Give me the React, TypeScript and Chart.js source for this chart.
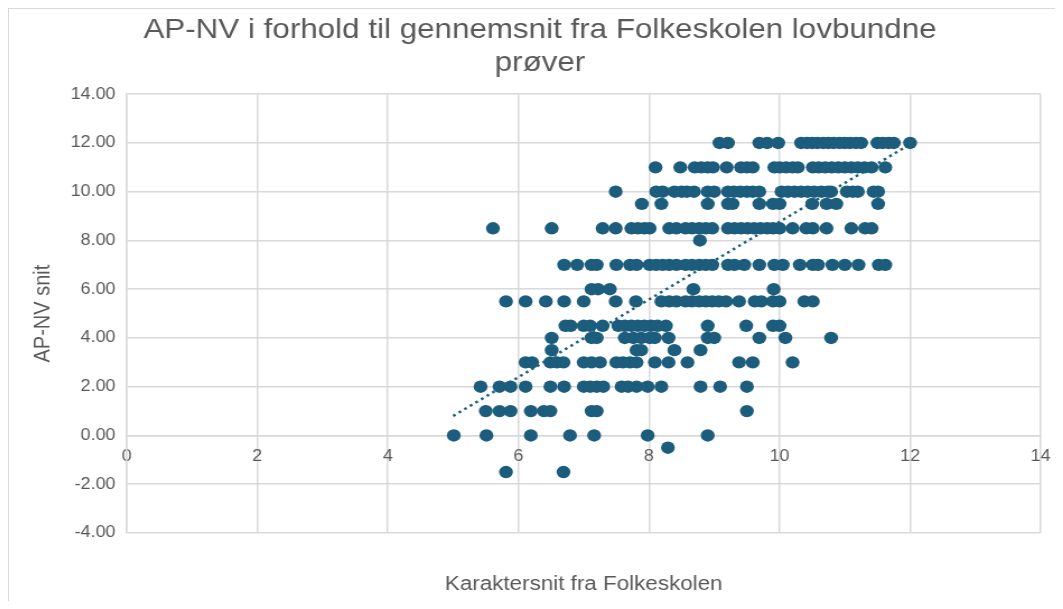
import React, { useEffect, useRef } from "react";
import { Chart, registerables } from "chart.js";

Chart.register(...registerables);

const TITLE_LINES = ["AP-NV i forhold til gennemsnit fra Folkeskolen lovbundne", "prøver"];
const X_TITLE = "Karaktersnit fra Folkeskolen";
const Y_TITLE = "AP-NV snit";

const X_MIN = 0;
const X_MAX = 14;
const X_STEP = 2;
const Y_MIN = -4;
const Y_MAX = 14;
const Y_STEP = 2;

// y levels (AP-NV snit) and the x values (Karaktersnit) read at each level
const yLevels = [12, 11, 10, 9.5, 8.5, 8, 7, 6, 5.5, 4.5, 4, 3.5, 3, 2, 1, 0, -0.5, -1.5];

const xAt12 = [9.08, 9.21, 9.69, 9.81, 9.98, 10.33, 10.42, 10.5, 10.58, 10.67, 10.75, 10.83, 10.92, 11.0, 11.08, 11.17, 11.25, 11.5, 11.58, 11.67, 11.75, 12.0];
const xAt11 = [8.1, 8.48, 8.7, 8.8, 8.9, 8.98, 9.19, 9.41, 9.5, 9.59, 9.92, 10.0, 10.1, 10.2, 10.28, 10.51, 10.6, 10.7, 10.8, 10.9, 11.0, 11.1, 11.2, 11.3, 11.41, 11.62];
const xAt10 = [7.49, 8.11, 8.21, 8.39, 8.5, 8.58, 8.69, 8.9, 9.0, 9.21, 9.3, 9.4, 9.5, 9.59, 9.69, 10.03, 10.13, 10.23, 10.33, 10.43, 10.53, 10.64, 10.74, 10.79, 11.03, 11.12, 11.2, 11.44, 11.51];
const xAt9_5 = [7.89, 8.19, 8.9, 9.21, 9.28, 9.69, 9.9, 10.0, 10.5, 10.72, 10.87, 11.51];
const xAt8_5 = [5.61, 6.51, 7.29, 7.49, 7.73, 7.83, 7.93, 8.01, 8.31, 8.42, 8.56, 8.66, 8.77, 8.87, 8.97, 9.21, 9.31, 9.41, 9.51, 9.61, 9.71, 9.81, 9.9, 10.0, 10.2, 10.41, 10.51, 10.72, 11.1, 11.31, 11.41];
const xAt8 = [8.78];
const xAt7 = [6.7, 6.9, 7.12, 7.2, 7.5, 7.71, 7.81, 8.01, 8.11, 8.21, 8.31, 8.42, 8.56, 8.66, 8.77, 8.87, 8.97, 9.21, 9.31, 9.46, 9.69, 9.92, 10.05, 10.31, 10.51, 10.59, 10.81, 11.0, 11.21, 11.52, 11.62];
const xAt6 = [7.12, 7.22, 7.4, 8.68, 9.91];
const xAt5_5 = [5.81, 6.11, 6.42, 6.7, 7.0, 7.49, 7.8, 8.19, 8.31, 8.42, 8.56, 8.66, 8.77, 8.87, 8.97, 9.07, 9.18, 9.38, 9.62, 9.72, 9.9, 10.0, 10.38, 10.51];
const xAt4_5 = [6.72, 6.8, 7.0, 7.1, 7.29, 7.53, 7.63, 7.73, 7.83, 7.93, 8.03, 8.13, 8.26, 8.9, 9.49, 9.9, 10.0];
const xAt4 = [6.51, 7.12, 7.2, 7.63, 7.76, 7.88, 8.01, 8.09, 8.3, 8.9, 9.0, 9.69, 10.09, 10.79];
const xAt3_5 = [6.51, 7.81, 7.88, 8.39, 8.79];
const xAt3 = [6.11, 6.21, 6.49, 6.59, 6.69, 7.0, 7.12, 7.25, 7.5, 7.6, 7.71, 7.81, 8.09, 8.3, 8.59, 9.38, 9.59, 10.2];
const xAt2 = [5.42, 5.71, 5.88, 6.11, 6.49, 6.7, 7.0, 7.1, 7.2, 7.3, 7.58, 7.68, 7.81, 7.98, 8.19, 8.79, 9.09, 9.5];
const xAt1 = [5.5, 5.71, 5.88, 6.19, 6.39, 6.49, 7.12, 7.2, 9.5];
const xAt0 = [5.01, 5.51, 6.19, 6.79, 7.16, 7.98, 8.9];
const xAtMinus0_5 = [8.29];
const xAtMinus1_5 = [5.81, 6.69];

const xByLevel = [xAt12, xAt11, xAt10, xAt9_5, xAt8_5, xAt8, xAt7, xAt6, xAt5_5, xAt4_5, xAt4, xAt3_5, xAt3, xAt2, xAt1, xAt0, xAtMinus0_5, xAtMinus1_5];

// linear trendline end points
const trendX = [5.0, 12.0];
const trendY = [0.8, 11.95];

const POINT_COLOR = "#1c5d7d";
const TEXT_COLOR = "#595959";
const GRID_COLOR = "#d9d9d9";
const FONT = "'Liberation Sans', Arial, sans-serif";

export default function App() {
  const ref = useRef<HTMLCanvasElement>(null);

  useEffect(() => {
    if (!ref.current) return;
    const points = yLevels.flatMap((y, i) => xByLevel[i].map((x) => ({ x, y })));
    const trend = trendX.map((x, i) => ({ x, y: trendY[i] }));

    const chart = new Chart(ref.current, {
      type: "scatter",
      data: {
        datasets: [
          {
            label: "Lineær tendens",
            data: trend,
            xAxisID: "x",
            yAxisID: "y",
            showLine: true,
            borderColor: POINT_COLOR,
            borderWidth: 2.5,
            borderDash: [2.5, 3.5],
            pointRadius: 0,
            pointHoverRadius: 0,
            fill: false,
            order: 0,
          },
          {
            label: "AP-NV snit",
            data: points,
            xAxisID: "x",
            yAxisID: "y",
            backgroundColor: POINT_COLOR,
            borderColor: POINT_COLOR,
            pointRadius: 6.2,
            pointBorderWidth: 0,
            order: 1,
          },
        ],
      },
      options: {
        responsive: false,
        animation: false,
        devicePixelRatio: 1,
        font: { family: FONT },
        layout: { padding: { left: 0, right: 0, top: 0, bottom: 0 } },
        plugins: {
          legend: { display: false },
          tooltip: { enabled: false },
          title: {
            display: true,
            text: TITLE_LINES,
            color: TEXT_COLOR,
            font: { family: FONT, size: 28, weight: "normal", lineHeight: 1.2 },
            padding: { top: 5, bottom: 14 },
          },
        },
        scales: {
          x: {
            type: "linear",
            axis: "x",
            position: { y: 0 },
            min: X_MIN,
            max: X_MAX,
            ticks: {
              stepSize: X_STEP,
              padding: 12,
              color: TEXT_COLOR,
              font: { family: FONT, size: 16 },
            },
            grid: { color: GRID_COLOR, lineWidth: 1.5, drawTicks: false },
            border: { color: GRID_COLOR, width: 1.5 },
          },
          x2: {
            type: "linear",
            axis: "x",
            position: "bottom",
            min: X_MIN,
            max: X_MAX,
            ticks: { display: false },
            grid: { display: false, drawTicks: false },
            border: { display: false },
            title: {
              display: true,
              text: X_TITLE,
              color: TEXT_COLOR,
              font: { family: FONT, size: 20, lineHeight: 1.2 },
              padding: { top: 0, bottom: 5 },
            },
            afterFit: (s: any) => {
              s.height = 68;
            },
          },
          y: {
            type: "linear",
            axis: "y",
            position: "left",
            min: Y_MIN,
            max: Y_MAX,
            ticks: {
              stepSize: Y_STEP,
              padding: 10,
              color: TEXT_COLOR,
              font: { family: FONT, size: 16 },
              callback: (v: any) => Number(v).toFixed(2),
            },
            grid: { color: GRID_COLOR, lineWidth: 1.5, drawTicks: false },
            border: { color: GRID_COLOR, width: 1.5 },
            title: {
              display: true,
              text: Y_TITLE,
              color: TEXT_COLOR,
              font: { family: FONT, size: 20, lineHeight: 1.2 },
              padding: { top: 19, bottom: 0 },
            },
            afterFit: (s: any) => {
              s.width = 106;
            },
          },
          y2: {
            type: "linear",
            axis: "y",
            position: "right",
            min: Y_MIN,
            max: Y_MAX,
            ticks: { display: false },
            grid: { display: false, drawTicks: false },
            border: { display: false },
            afterFit: (s: any) => {
              s.width = 28;
            },
          },
        },
      } as any,
    });
    return () => chart.destroy();
  }, []);

  return (
    <div
      style={{
        position: "relative",
        width: 1047,
        height: 593,
        overflow: "hidden",
        background: "#ffffff",
      }}
    >
      <canvas
        ref={ref}
        width={950}
        height={593}
        style={{ width: "1064px", height: "593px", display: "block" }}
      />
      <div
        style={{
          position: "absolute",
          left: 0,
          top: 0,
          right: 0,
          bottom: 0,
          borderTop: "1px solid #d9d9d9",
          borderLeft: "1px solid #d9d9d9",
          pointerEvents: "none",
        }}
      />
    </div>
  );
}
